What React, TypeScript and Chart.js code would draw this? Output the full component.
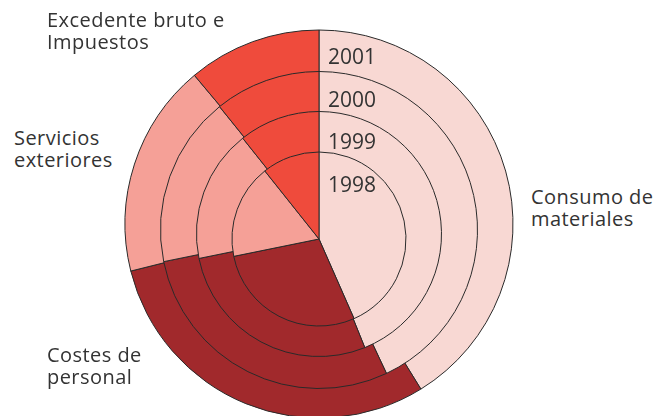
import React, { useEffect, useRef } from 'react';
import { Chart, registerables } from 'chart.js';

Chart.register(...registerables);

// ---- data (percent share of each year's total) ----
const categories = ['Consumo de materiales', 'Costes de personal', 'Servicios exteriores', 'Excedente bruto e Impuestos'];
const years = ['1998', '1999', '2000', '2001'];
const consumo = [43.4, 43.9, 43.0, 41.2];
const costes = [28.4, 27.9, 28.8, 29.9];
const servicios = [17.5, 17.5, 17.4, 17.8];
const excedente = [10.7, 10.7, 10.8, 11.1];

// ---- styles ----
const colors = ['#F8D8D3', '#A1292C', '#F5A097', '#EF4B3C'];
const ringGeom = [
  { cy: 239, r: 87 },
  { cy: 234, r: 122.5 },
  { cy: 230, r: 158.5 },
  { cy: 224, r: 194 },
];
const CX = 319;
const FONT = '"Open Sans", "Noto Sans", sans-serif';
const TEXT = '#333333';

function Ring({ index }: { index: number }) {
  const ref = useRef<HTMLCanvasElement | null>(null);
  const g = ringGeom[index];
  const size = Math.ceil(g.r) * 2 + 8;
  useEffect(() => {
    if (!ref.current) return;
    const chart = new Chart(ref.current, {
      type: 'pie',
      data: {
        labels: categories,
        datasets: [
          {
            label: years[index],
            data: [consumo[index], costes[index], servicios[index], excedente[index]],
            backgroundColor: colors,
            borderColor: '#2a2a2a',
            borderWidth: 1,
          },
        ],
      },
      options: {
        responsive: false,
        animation: false,
        events: [],
        radius: g.r,
        layout: { padding: 0 },
        plugins: { legend: { display: false }, tooltip: { enabled: false } },
      } as any,
    });
    return () => chart.destroy();
  }, [index]);
  return (
    <canvas
      ref={ref}
      width={size}
      height={size}
      style={{
        position: 'absolute',
        left: CX - size / 2,
        top: g.cy - size / 2,
        width: size,
        height: size,
      }}
    />
  );
}

const labelStyle: React.CSSProperties = {
  position: 'absolute',
  fontFamily: FONT,
  fontSize: 20,
  lineHeight: '22.5px',
  letterSpacing: '0.45px',
  color: TEXT,
  whiteSpace: 'nowrap',
};

const yearTops = [173, 129.5, 87.5, 44.5];

export default function App() {
  return (
    <div
      style={{
        position: 'fixed',
        left: 0,
        top: 0,
        width: 659,
        height: 416,
        overflow: 'hidden',
        background: '#ffffff',
      }}
    >
      <Ring index={3} />
      <Ring index={2} />
      <Ring index={1} />
      <Ring index={0} />
      {years.map((y, i) => (
        <div
          key={y}
          style={{
            position: 'absolute',
            left: 328,
            top: yearTops[i],
            fontFamily: FONT,
            fontSize: 21,
            lineHeight: '22px',
            color: TEXT,
          }}
        >
          {y}
        </div>
      ))}
      <div style={{ ...labelStyle, left: 47, top: 8.5 }}>
        Excedente bruto e<br />Impuestos
      </div>
      <div style={{ ...labelStyle, left: 14, top: 126.5 }}>
        Servicios<br />exteriores
      </div>
      <div style={{ ...labelStyle, left: 531, top: 185.5 }}>
        Consumo de<br />materiales
      </div>
      <div style={{ ...labelStyle, left: 47, top: 343.5 }}>
        Costes de<br />personal
      </div>
    </div>
  );
}
